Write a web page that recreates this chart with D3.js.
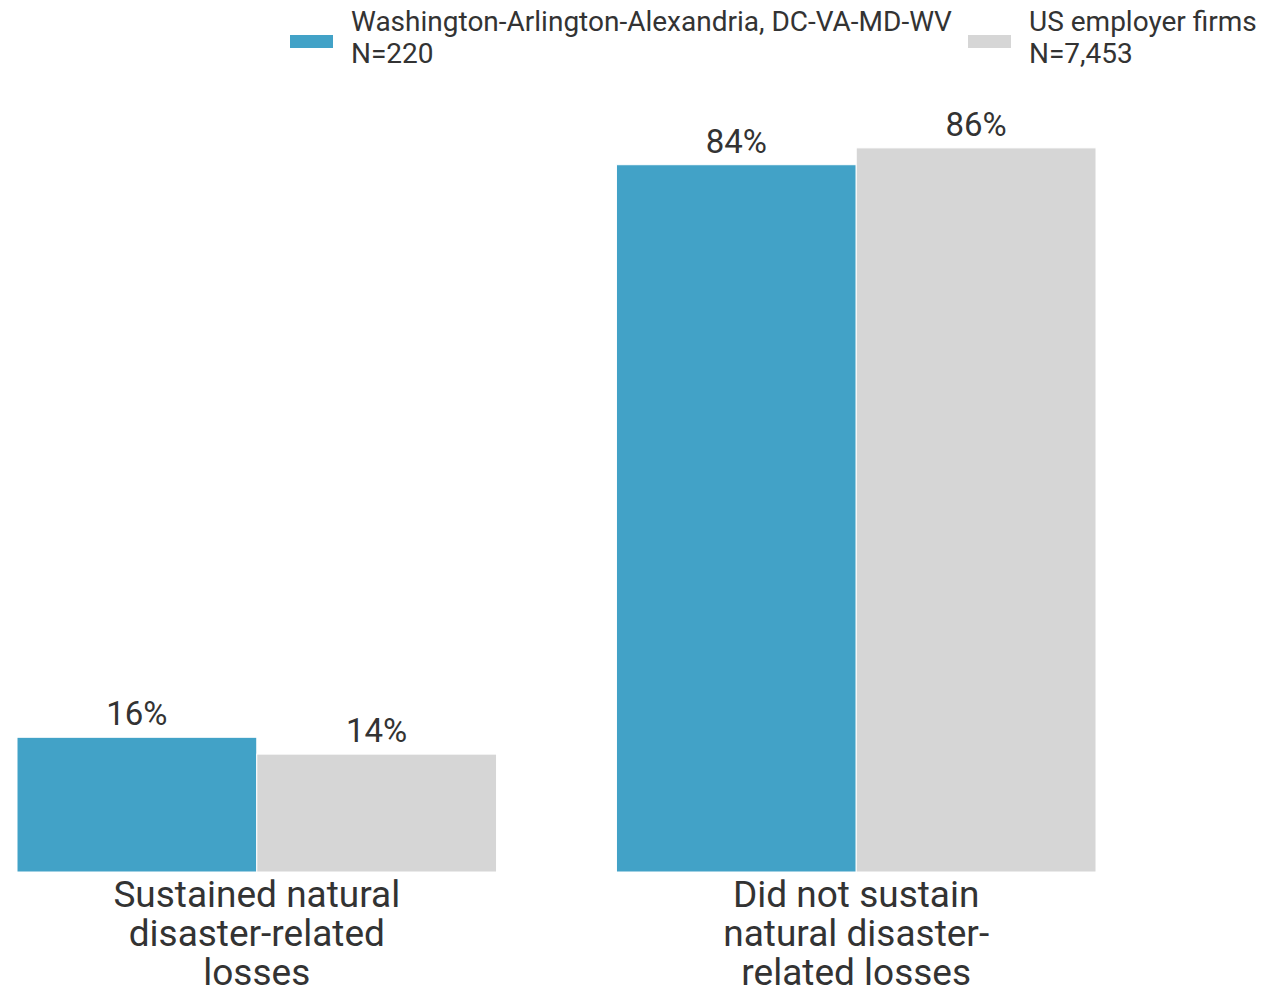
<!DOCTYPE html>
<html>
<head>
    <title>Natural disaster losses</title>
    <script src="https://d3js.org/d3.v7.min.js"></script>
    <style>
        body { margin: 0; background: #fff; }
        text { font-family: Roboto, "Noto Sans", sans-serif; fill: #333; }
        .value-label { font-size: 33px; text-anchor: middle; }
        .cat-label { font-size: 37px; text-anchor: middle; }
        .legend-label { font-size: 28px; }
    </style>
</head>
<body>
<script>
    var categories = ["Sustained natural disaster-related losses", "Did not sustain natural disaster-related losses"];
    var categoryLines = [
        ["Sustained natural", "disaster-related", "losses"],
        ["Did not sustain", "natural disaster-", "related losses"]
    ];
    var seriesNames = ["Washington-Arlington-Alexandria, DC-VA-MD-WV", "US employer firms"];
    var seriesN = ["N=220", "N=7,453"];
    var seriesColors = ["#42a2c7", "#d6d6d6"];
    var washingtonValues = [16, 84];
    var usValues = [14, 86];

    var w = 1264;
    var h = 994;

    var svg = d3.select("body")
        .append("svg")
        .attr("width", w)
        .attr("height", h);

    var x0 = d3.scaleBand()
        .domain(categories)
        .range([17, 1096])
        .paddingInner(0.2)
        .paddingOuter(0);

    var x1 = d3.scaleBand()
        .domain(seriesNames)
        .range([0, x0.bandwidth()]);

    var y = d3.scaleLinear()
        .domain([0, 100])
        .range([872, 30]);

    var rows = [];
    categories.forEach(function (c, i) {
        rows.push({ cat: c, series: seriesNames[0], value: washingtonValues[i], color: seriesColors[0] });
        rows.push({ cat: c, series: seriesNames[1], value: usValues[i], color: seriesColors[1] });
    });

    svg.selectAll(".bar")
        .data(rows)
        .enter()
        .append("rect")
        .attr("class", "bar")
        .attr("x", function (d) { return x0(d.cat) + x1(d.series); })
        .attr("y", function (d) { return y(d.value); })
        .attr("width", x1.bandwidth())
        .attr("height", function (d) { return y(0) - y(d.value); })
        .attr("fill", function (d) { return d.color; })
        .attr("stroke", "#fff")
        .attr("stroke-width", 1);

    svg.selectAll(".value-label")
        .data(rows)
        .enter()
        .append("text")
        .attr("class", "value-label")
        .attr("x", function (d) { return x0(d.cat) + x1(d.series) + x1.bandwidth() / 2; })
        .attr("y", function (d) { return y(d.value) - 12; })
        .text(function (d) { return d.value + "%"; });

    // category labels, wrapped as in the original
    categories.forEach(function (c, i) {
        var t = svg.append("text")
            .attr("class", "cat-label")
            .attr("x", x0(c) + x0.bandwidth() / 2)
            .attr("y", 907);
        categoryLines[i].forEach(function (line, j) {
            t.append("tspan")
                .attr("x", x0(c) + x0.bandwidth() / 2)
                .attr("dy", j === 0 ? 0 : 39)
                .text(line);
        });
    });

    // legend
    var legendX = [290, 968];
    seriesNames.forEach(function (s, i) {
        var g = svg.append("g").attr("transform", "translate(" + legendX[i] + ",0)");
        g.append("rect")
            .attr("x", 0)
            .attr("y", 35)
            .attr("width", 43)
            .attr("height", 13)
            .attr("fill", seriesColors[i]);
        g.append("text")
            .attr("class", "legend-label")
            .attr("x", 61)
            .attr("y", 31)
            .text(s);
        g.append("text")
            .attr("class", "legend-label")
            .attr("x", 61)
            .attr("y", 63)
            .text(seriesN[i]);
    });
</script>
</body>
</html>
